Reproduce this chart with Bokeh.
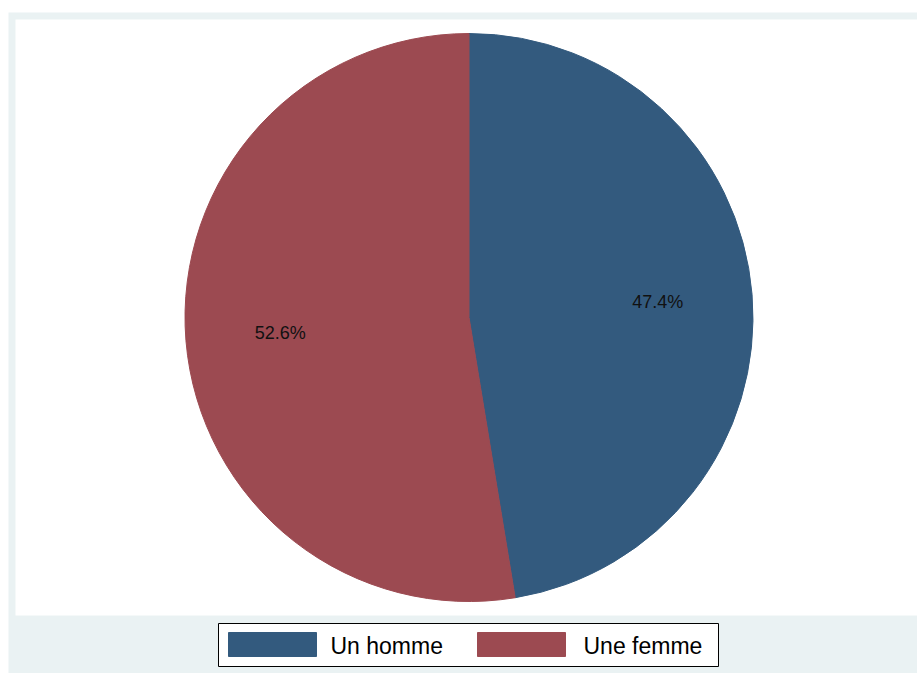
import math
from bokeh.plotting import figure
from bokeh.models import Range1d, ColumnDataSource
from bokeh.core.properties import value
from bokeh.embed import file_html
from bokeh.resources import INLINE

categories = ["Un homme", "Une femme"]
shares = [47.4, 52.6]
labels = ["47.4%", "52.6%"]
colors = ["#335A7E", "#9C4A51"]

BG = "#EAF2F3"
FONT = "Liberation Sans"
W, H = 909, 661
cx, cy = 460.5, 356.0
R = 284

p = figure(width=W, height=H, output_backend="svg", toolbar_location=None,
           x_range=Range1d(0, W), y_range=Range1d(0, H),
           x_axis_type=None, y_axis_type=None,
           min_border=0, border_fill_color=BG, background_fill_color=BG,
           outline_line_color=None, margin=(12, 0, 0, 8))
p.grid.visible = False

# white inner plot region
p.quad(left=7, right=W, bottom=58, top=H - 7, fill_color="white", line_color=None)

total = sum(shares)
start = 90.0  # clockwise from 12 o'clock
mids = []
for cat, s, col in zip(categories, shares, colors):
    sweep = s / total * 360.0
    end = start - sweep
    p.wedge(x=cx, y=cy, radius=R, radius_units="screen",
            start_angle=math.radians(end), end_angle=math.radians(start),
            fill_color=col, line_color=col, line_width=1)
    mids.append(math.radians((start + end) / 2))
    start = end

src = ColumnDataSource(dict(
    x=[cx + (2 * R / 3) * math.cos(a) for a in mids],
    y=[cy + (2 * R / 3) * math.sin(a) for a in mids],
    t=labels))
p.text(x="x", y="y", text="t", source=src, text_align="center", text_baseline="middle",
       text_font=value(FONT), text_font_size="18px", text_color="#111111")

# legend (Stata style, bottom, boxed)
box_l, box_r, box_b, box_t = 210, 710, 7, 50
sw_w, sw_h = 88, 24
item_x = [220, 469]
text_x = [322, 575]
p.quad(left=box_l, right=box_r, bottom=box_b, top=box_t,
       fill_color="white", line_color="black", line_width=1)
leg = ColumnDataSource(dict(
    l=item_x, r=[x + sw_w for x in item_x],
    b=[17] * len(item_x), t=[17 + sw_h] * len(item_x),
    c=colors, tx=text_x, ty=[28] * len(item_x),
    lab=categories))
p.quad(left="l", right="r", bottom="b", top="t", fill_color="c", line_color="c", source=leg)
p.text(x="tx", y="ty", text="lab", source=leg, text_align="left", text_baseline="alphabetic",
       text_font=value(FONT), text_font_size="23px", text_color="black")

open("out.html", "w").write(file_html(p, INLINE))
